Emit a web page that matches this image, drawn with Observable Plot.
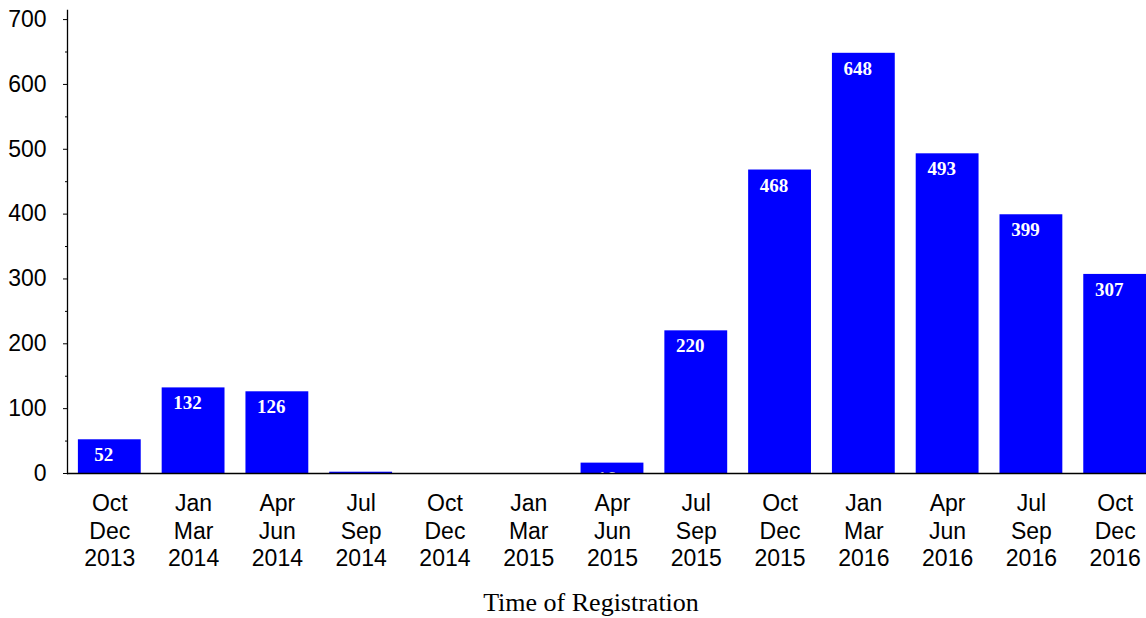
<!DOCTYPE html>
<html>
<head>
<meta charset="utf-8">
<script src="https://cdn.jsdelivr.net/npm/d3@7"></script>
<script src="https://cdn.jsdelivr.net/npm/@observablehq/plot@0.6"></script>
<style>
  html, body { margin: 0; padding: 0; background: #fff; }
  #chart { width: 1146px; height: 618px; overflow: hidden; }
</style>
</head>
<body>
<div id="chart"></div>
<script>
const quarters = ["Oct\nDec\n2013", "Jan\nMar\n2014", "Apr\nJun\n2014", "Jul\nSep\n2014",
                  "Oct\nDec\n2014", "Jan\nMar\n2015", "Apr\nJun\n2015", "Jul\nSep\n2015",
                  "Oct\nDec\n2015", "Jan\nMar\n2016", "Apr\nJun\n2016", "Jul\nSep\n2016",
                  "Oct\nDec\n2016"];
const registrations = [52, 132, 126, 2, 0, 0, 16, 220, 468, 648, 493, 399, 307];
const majorTicks = [0, 100, 200, 300, 400, 500, 600, 700];
const minorTicks = [50, 150, 250, 350, 450, 550, 650];
const xTitle = "Time of Registration";

const data = quarters.map((q, i) => ({quarter: q, value: registrations[i]}));

const sans = "'Liberation Sans', Arial, Helvetica, sans-serif";
const serif = "'Liberation Serif', 'Times New Roman', Times, serif";

const chart = Plot.plot({
  width: 1146,
  height: 618,
  marginLeft: 67,
  marginRight: -11,
  marginTop: 10,
  marginBottom: 145,
  style: {background: "#fff", color: "#000", overflow: "visible"},
  x: {domain: quarters, paddingInner: 0.25, paddingOuter: 0.13, round: false, label: null},
  y: {domain: [0, 714], label: null},
  marks: [
    Plot.barY(data, {x: "quarter", y: "value", fill: "#0000ff"}),
    Plot.text(data.filter(d => d.value >= 10), {x: "quarter", y: "value", text: d => String(d.value), fill: "#fff",
      fontFamily: serif, fontWeight: "bold", fontSize: 19, dy: 15.5, dx: -6, clip: true}),
    Plot.ruleY([0], {stroke: "#000", strokeWidth: 1.3}),
    Plot.frame({anchor: "left", stroke: "#000", strokeWidth: 1.3}),
    Plot.axisY(majorTicks, {tickSize: 4, tickPadding: 17, fontSize: 23, fontFamily: sans,
      stroke: "#000", fill: "#000", label: null}),
    Plot.axisY(minorTicks, {tickSize: 2, stroke: "#000", fill: "none", label: null}),
    Plot.axisX({tickSize: 0, tickPadding: 18, fontSize: 23, fontFamily: sans, lineHeight: 1.2,
      fill: "#000", label: null}),
    Plot.text([xTitle], {frameAnchor: "bottom", lineAnchor: "top", dy: 119, dx: -21.5,
      fontFamily: serif, fontSize: 26, fill: "#000"})
  ]
});
document.getElementById("chart").appendChild(chart);
</script>
</body>
</html>
